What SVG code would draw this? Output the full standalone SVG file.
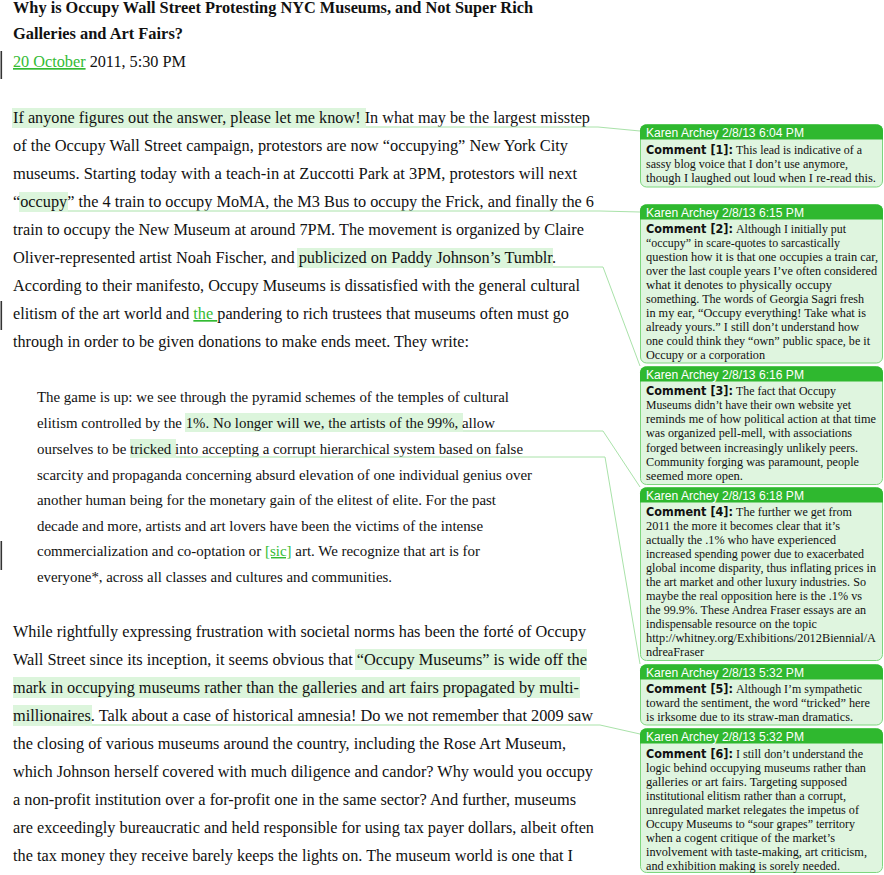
<svg xmlns="http://www.w3.org/2000/svg" width="884" height="875" viewBox="0 0 884 875">
<style>
.t{font-family:"Liberation Serif","Times New Roman",serif;fill:#111}
.b{font-size:16.8px}
.q{font-size:14.5px}
.ti{font-size:16px;font-weight:bold}
.g{fill:#33bb33;text-decoration:underline}
.hl{fill:#dcf5dc}
.bar{fill:#333}
.conn{fill:none;stroke:#a9e2a9;stroke-width:1}
.hd{fill:#2fb82f}
.bx{fill:#dff5df;stroke:#7ed67e;stroke-width:1}
.ht{font-family:"Liberation Sans",Arial,sans-serif;font-size:12.3px;fill:#fff}
.cb{font-family:"DejaVu Sans","Liberation Sans",sans-serif;font-size:11.8px;font-weight:bold;fill:#111}
.ct{font-family:"Liberation Serif","Times New Roman",serif;font-size:12.3px;fill:#111}
</style>

<g id="highlights">
<rect class="hl" x="12" y="108" width="354" height="20"/>
<rect class="hl" x="19" y="192" width="49" height="20"/>
<rect class="hl" x="297" y="248" width="256" height="20"/>
<rect class="hl" x="185" y="413" width="278" height="19"/>
<rect class="hl" x="130" y="439" width="46" height="19"/>
<rect class="hl" x="355" y="649" width="232" height="21"/>
<rect class="hl" x="13" y="677" width="567" height="21"/>
<rect class="hl" x="13" y="705" width="79" height="21"/>
</g>

<g id="change-bars">
<rect class="bar" x="0.5" y="51" width="1.6" height="28"/>
<rect class="bar" x="0.5" y="301" width="1.6" height="29"/>
<rect class="bar" x="0.5" y="541" width="1.6" height="29"/>
</g>

<g id="article">
<text class="t ti" x="13" y="13" textLength="520" lengthAdjust="spacingAndGlyphs">Why is Occupy Wall Street Protesting NYC Museums, and Not Super Rich</text>
<text class="t ti" x="13" y="39" textLength="170" lengthAdjust="spacingAndGlyphs">Galleries and Art Fairs?</text>
<text class="t b" x="13" y="67" textLength="173" lengthAdjust="spacingAndGlyphs"><tspan class="g">20 October</tspan> 2011, 5:30 PM</text>

<text class="t b" x="13" y="123" textLength="577" lengthAdjust="spacingAndGlyphs">If anyone figures out the answer, please let me know! In what may be the largest misstep</text>
<text class="t b" x="13" y="151" textLength="555" lengthAdjust="spacingAndGlyphs">of the Occupy Wall Street campaign, protestors are now “occupying” New York City</text>
<text class="t b" x="13" y="179" textLength="564" lengthAdjust="spacingAndGlyphs">museums. Starting today with a teach-in at Zuccotti Park at 3PM, protestors will next</text>
<text class="t b" x="13" y="207" textLength="581" lengthAdjust="spacingAndGlyphs">“occupy” the 4 train to occupy MoMA, the M3 Bus to occupy the Frick, and finally the 6</text>
<text class="t b" x="13" y="235" textLength="571" lengthAdjust="spacingAndGlyphs">train to occupy the New Museum at around 7PM. The movement is organized by Claire</text>
<text class="t b" x="13" y="263" textLength="543" lengthAdjust="spacingAndGlyphs">Oliver-represented artist Noah Fischer, and publicized on Paddy Johnson’s Tumblr.</text>
<text class="t b" x="13" y="291" textLength="567" lengthAdjust="spacingAndGlyphs">According to their manifesto, Occupy Museums is dissatisfied with the general cultural</text>
<text class="t b" x="13" y="319" textLength="556" lengthAdjust="spacingAndGlyphs">elitism of the art world and <tspan class="g">the </tspan>pandering to rich trustees that museums often must go</text>
<text class="t b" x="13" y="347" textLength="456" lengthAdjust="spacingAndGlyphs">through in order to be given donations to make ends meet. They write:</text>

<text class="t q" x="37" y="402" textLength="472" lengthAdjust="spacingAndGlyphs">The game is up: we see through the pyramid schemes of the temples of cultural</text>
<text class="t q" x="37" y="428" textLength="458" lengthAdjust="spacingAndGlyphs">elitism controlled by the 1%. No longer will we, the artists of the 99%, allow</text>
<text class="t q" x="37" y="454" textLength="486" lengthAdjust="spacingAndGlyphs">ourselves to be tricked into accepting a corrupt hierarchical system based on false</text>
<text class="t q" x="37" y="480" textLength="495" lengthAdjust="spacingAndGlyphs">scarcity and propaganda concerning absurd elevation of one individual genius over</text>
<text class="t q" x="37" y="505" textLength="459" lengthAdjust="spacingAndGlyphs">another human being for the monetary gain of the elitest of elite. For the past</text>
<text class="t q" x="37" y="531" textLength="446" lengthAdjust="spacingAndGlyphs">decade and more, artists and art lovers have been the victims of the intense</text>
<text class="t q" x="37" y="556" textLength="443" lengthAdjust="spacingAndGlyphs">commercialization and co-optation or <tspan class="g">[sic]</tspan> art. We recognize that art is for</text>
<text class="t q" x="37" y="582" textLength="355" lengthAdjust="spacingAndGlyphs">everyone*, across all classes and cultures and communities.</text>

<text class="t b" x="13" y="637" textLength="573" lengthAdjust="spacingAndGlyphs">While rightfully expressing frustration with societal norms has been the forté of Occupy</text>
<text class="t b" x="13" y="665" textLength="574" lengthAdjust="spacingAndGlyphs">Wall Street since its inception, it seems obvious that “Occupy Museums” is wide off the</text>
<text class="t b" x="13" y="693" textLength="566" lengthAdjust="spacingAndGlyphs">mark in occupying museums rather than the galleries and art fairs propagated by multi-</text>
<text class="t b" x="13" y="721" textLength="580" lengthAdjust="spacingAndGlyphs">millionaires. Talk about a case of historical amnesia! Do we not remember that 2009 saw</text>
<text class="t b" x="13" y="749" textLength="553" lengthAdjust="spacingAndGlyphs">the closing of various museums around the country, including the Rose Art Museum,</text>
<text class="t b" x="13" y="777" textLength="580" lengthAdjust="spacingAndGlyphs">which Johnson herself covered with much diligence and candor? Why would you occupy</text>
<text class="t b" x="13" y="805" textLength="563" lengthAdjust="spacingAndGlyphs">a non-profit institution over a for-profit one in the same sector? And further, museums</text>
<text class="t b" x="13" y="833" textLength="581" lengthAdjust="spacingAndGlyphs">are exceedingly bureaucratic and held responsible for using tax payer dollars, albeit often</text>
<text class="t b" x="13" y="861" textLength="560" lengthAdjust="spacingAndGlyphs">the tax money they receive barely keeps the lights on. The museum world is one that I</text>
</g>

<g id="connectors">
<path class="conn" d="M366,127 H598 L640,131"/>
<path class="conn" d="M68,211 H600 L640,212"/>
<path class="conn" d="M553,267 H603 L640,366"/>
<path class="conn" d="M463,431 H603 L640,487"/>
<path class="conn" d="M176,457 H605 L640,664"/>
<path class="conn" d="M92,725 H600 L640,734"/>
</g>

<g id="comment-1">
<rect class="bx" x="640.5" y="124.5" width="242" height="62.5" rx="6"/>
<path class="hd" d="M640,139.5 V130.5 A6,6 0 0 1 646,124.5 H877 A6,6 0 0 1 883,130.5 V139.5 Z"/>
<text class="ht" x="646" y="136.5" textLength="158" lengthAdjust="spacingAndGlyphs">Karen Archey 2/8/13 6:04 PM</text>
<text class="cb" x="646" y="154" textLength="87" lengthAdjust="spacingAndGlyphs">Comment [1]:</text>
<text class="ct" x="736" y="154" textLength="126" lengthAdjust="spacingAndGlyphs">This lead is indicative of a</text>
<text class="ct" x="646" y="168" textLength="202" lengthAdjust="spacingAndGlyphs">sassy blog voice that I don’t use anymore,</text>
<text class="ct" x="646" y="182" textLength="230" lengthAdjust="spacingAndGlyphs">though I laughed out loud when I re-read this.</text>
</g>

<g id="comment-2">
<rect class="bx" x="640.5" y="204.5" width="242" height="158.5" rx="6"/>
<path class="hd" d="M640,219.5 V210.5 A6,6 0 0 1 646,204.5 H877 A6,6 0 0 1 883,210.5 V219.5 Z"/>
<text class="ht" x="646" y="216.5" textLength="158" lengthAdjust="spacingAndGlyphs">Karen Archey 2/8/13 6:15 PM</text>
<text class="cb" x="646" y="233" textLength="87" lengthAdjust="spacingAndGlyphs">Comment [2]:</text>
<text class="ct" x="736" y="233" textLength="110" lengthAdjust="spacingAndGlyphs">Although I initially put</text>
<text class="ct" x="646" y="247" textLength="194" lengthAdjust="spacingAndGlyphs">“occupy” in scare-quotes to sarcastically</text>
<text class="ct" x="646" y="261" textLength="232" lengthAdjust="spacingAndGlyphs">question how it is that one occupies a train car,</text>
<text class="ct" x="646" y="275" textLength="231" lengthAdjust="spacingAndGlyphs">over the last couple years I’ve often considered</text>
<text class="ct" x="646" y="289" textLength="186" lengthAdjust="spacingAndGlyphs">what it denotes to physically occupy</text>
<text class="ct" x="646" y="303" textLength="218" lengthAdjust="spacingAndGlyphs">something. The words of Georgia Sagri fresh</text>
<text class="ct" x="646" y="317" textLength="220" lengthAdjust="spacingAndGlyphs">in my ear, “Occupy everything! Take what is</text>
<text class="ct" x="646" y="331" textLength="213" lengthAdjust="spacingAndGlyphs">already yours.” I still don’t understand how</text>
<text class="ct" x="646" y="345" textLength="224" lengthAdjust="spacingAndGlyphs">one could think they “own” public space, be it</text>
<text class="ct" x="646" y="359" textLength="119" lengthAdjust="spacingAndGlyphs">Occupy or a corporation</text>
</g>

<g id="comment-3">
<rect class="bx" x="640.5" y="366.5" width="242" height="118" rx="6"/>
<path class="hd" d="M640,381.5 V372.5 A6,6 0 0 1 646,366.5 H877 A6,6 0 0 1 883,372.5 V381.5 Z"/>
<text class="ht" x="646" y="378.5" textLength="158" lengthAdjust="spacingAndGlyphs">Karen Archey 2/8/13 6:16 PM</text>
<text class="cb" x="646" y="395" textLength="87" lengthAdjust="spacingAndGlyphs">Comment [3]:</text>
<text class="ct" x="736" y="395" textLength="100" lengthAdjust="spacingAndGlyphs">The fact that Occupy</text>
<text class="ct" x="646" y="409" textLength="205" lengthAdjust="spacingAndGlyphs">Museums didn’t have their own website yet</text>
<text class="ct" x="646" y="423" textLength="230" lengthAdjust="spacingAndGlyphs">reminds me of how political action at that time</text>
<text class="ct" x="646" y="437" textLength="206" lengthAdjust="spacingAndGlyphs">was organized pell-mell, with associations</text>
<text class="ct" x="646" y="452" textLength="212" lengthAdjust="spacingAndGlyphs">forged between increasingly unlikely peers.</text>
<text class="ct" x="646" y="466" textLength="213" lengthAdjust="spacingAndGlyphs">Community forging was paramount, people</text>
<text class="ct" x="646" y="480" textLength="97" lengthAdjust="spacingAndGlyphs">seemed more open.</text>
</g>

<g id="comment-4">
<rect class="bx" x="640.5" y="487.5" width="242" height="173" rx="6"/>
<path class="hd" d="M640,502.5 V493.5 A6,6 0 0 1 646,487.5 H877 A6,6 0 0 1 883,493.5 V502.5 Z"/>
<text class="ht" x="646" y="499.5" textLength="158" lengthAdjust="spacingAndGlyphs">Karen Archey 2/8/13 6:18 PM</text>
<text class="cb" x="646" y="516" textLength="87" lengthAdjust="spacingAndGlyphs">Comment [4]:</text>
<text class="ct" x="736" y="516" textLength="116" lengthAdjust="spacingAndGlyphs">The further we get from</text>
<text class="ct" x="646" y="530" textLength="194" lengthAdjust="spacingAndGlyphs">2011 the more it becomes clear that it’s</text>
<text class="ct" x="646" y="544" textLength="190" lengthAdjust="spacingAndGlyphs">actually the .1% who have experienced</text>
<text class="ct" x="646" y="558" textLength="218" lengthAdjust="spacingAndGlyphs">increased spending power due to exacerbated</text>
<text class="ct" x="646" y="572" textLength="230" lengthAdjust="spacingAndGlyphs">global income disparity, thus inflating prices in</text>
<text class="ct" x="646" y="586" textLength="220" lengthAdjust="spacingAndGlyphs">the art market and other luxury industries. So</text>
<text class="ct" x="646" y="600" textLength="216" lengthAdjust="spacingAndGlyphs">maybe the real opposition here is the .1% vs</text>
<text class="ct" x="646" y="614" textLength="220" lengthAdjust="spacingAndGlyphs">the 99.9%. These Andrea Fraser essays are an</text>
<text class="ct" x="646" y="628" textLength="171" lengthAdjust="spacingAndGlyphs">indispensable resource on the topic</text>
<text class="ct" x="646" y="642" textLength="230" lengthAdjust="spacingAndGlyphs">http://whitney.org/Exhibitions/2012Biennial/A</text>
<text class="ct" x="646" y="656" textLength="58" lengthAdjust="spacingAndGlyphs">ndreaFraser</text>
</g>

<g id="comment-5">
<rect class="bx" x="640.5" y="664.5" width="242" height="60.5" rx="6"/>
<path class="hd" d="M640,679.5 V670.5 A6,6 0 0 1 646,664.5 H877 A6,6 0 0 1 883,670.5 V679.5 Z"/>
<text class="ht" x="646" y="676.5" textLength="158" lengthAdjust="spacingAndGlyphs">Karen Archey 2/8/13 5:32 PM</text>
<text class="cb" x="646" y="693" textLength="87" lengthAdjust="spacingAndGlyphs">Comment [5]:</text>
<text class="ct" x="736" y="693" textLength="126" lengthAdjust="spacingAndGlyphs">Although I’m sympathetic</text>
<text class="ct" x="646" y="707" textLength="224" lengthAdjust="spacingAndGlyphs">toward the sentiment, the word “tricked” here</text>
<text class="ct" x="646" y="721" textLength="207" lengthAdjust="spacingAndGlyphs">is irksome due to its straw-man dramatics.</text>
</g>

<g id="comment-6">
<rect class="bx" x="640.5" y="728.5" width="242" height="144" rx="6"/>
<path class="hd" d="M640,743.5 V734.5 A6,6 0 0 1 646,728.5 H877 A6,6 0 0 1 883,734.5 V743.5 Z"/>
<text class="ht" x="646" y="740.5" textLength="158" lengthAdjust="spacingAndGlyphs">Karen Archey 2/8/13 5:32 PM</text>
<text class="cb" x="646" y="758" textLength="87" lengthAdjust="spacingAndGlyphs">Comment [6]:</text>
<text class="ct" x="736" y="758" textLength="127" lengthAdjust="spacingAndGlyphs">I still don’t understand the</text>
<text class="ct" x="646" y="772" textLength="220" lengthAdjust="spacingAndGlyphs">logic behind occupying museums rather than</text>
<text class="ct" x="646" y="786" textLength="201" lengthAdjust="spacingAndGlyphs">galleries or art fairs. Targeting supposed</text>
<text class="ct" x="646" y="800" textLength="200" lengthAdjust="spacingAndGlyphs">institutional elitism rather than a corrupt,</text>
<text class="ct" x="646" y="814" textLength="213" lengthAdjust="spacingAndGlyphs">unregulated market relegates the impetus of</text>
<text class="ct" x="646" y="828" textLength="209" lengthAdjust="spacingAndGlyphs">Occupy Museums to “sour grapes” territory</text>
<text class="ct" x="646" y="842" textLength="189" lengthAdjust="spacingAndGlyphs">when a cogent critique of the market’s</text>
<text class="ct" x="646" y="856" textLength="221" lengthAdjust="spacingAndGlyphs">involvement with taste-making, art criticism,</text>
<text class="ct" x="646" y="870" textLength="194" lengthAdjust="spacingAndGlyphs">and exhibition making is sorely needed.</text>
</g>
</svg>
